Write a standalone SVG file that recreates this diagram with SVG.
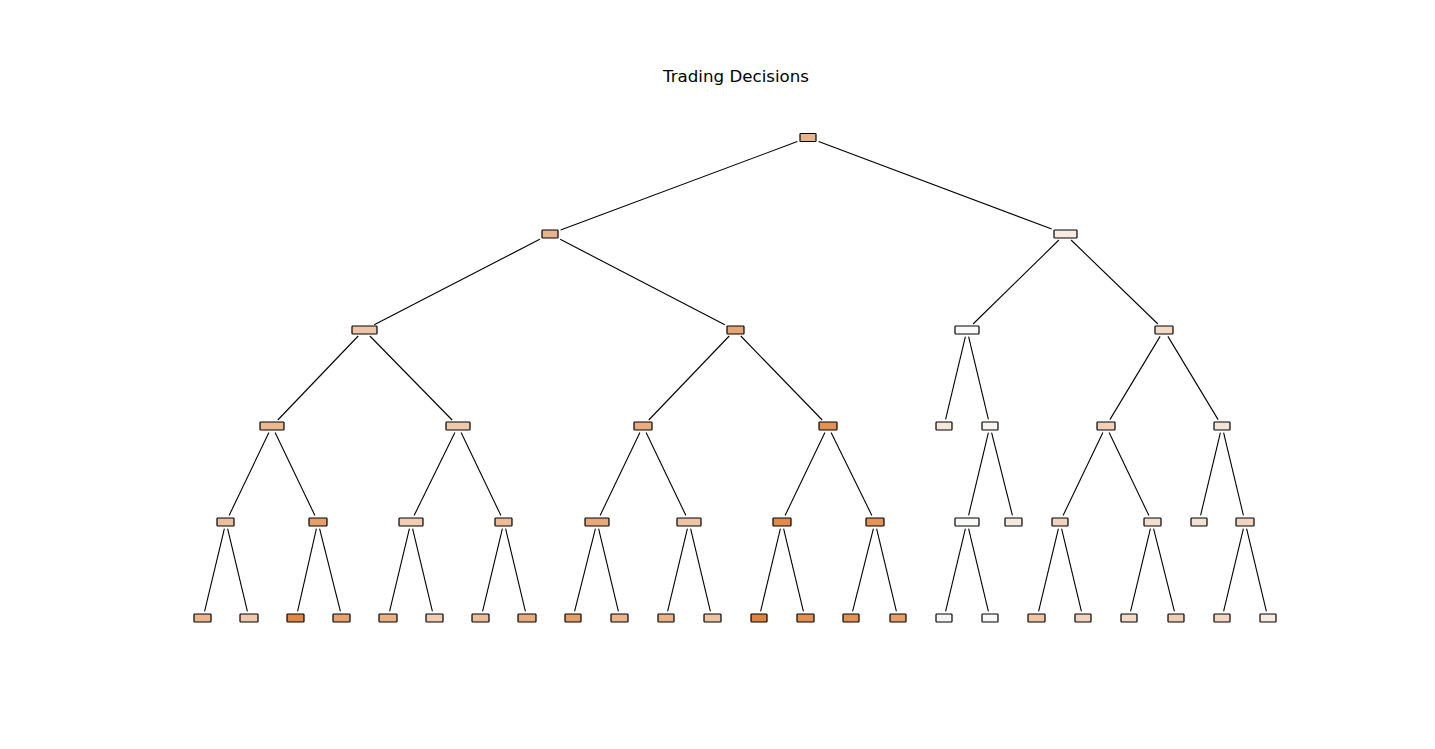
<svg xmlns="http://www.w3.org/2000/svg" width="1435" height="749" viewBox="0 0 1435 749">
<style>
.n rect{stroke:#000;stroke-width:1.2;rx:0.8}
.e line{stroke:#000;stroke-width:1.1;fill:none}
.t{font-family:"DejaVu Sans",sans-serif;font-size:16.67px;fill:#000}
</style>
<rect width="1435" height="749" fill="#fff"/>
<text class="t" x="736" y="82" text-anchor="middle">Trading Decisions</text>
<g id="connectors" class="e">
<line x1="797.4" y1="141.5" x2="560.6" y2="230"/>
<line x1="818.6" y1="141.5" x2="1051.7" y2="229"/>
<line x1="539.8" y1="239.3" x2="374.2" y2="324.7"/>
<line x1="560.2" y1="239.3" x2="724.8" y2="324.7"/>
<line x1="1058.9" y1="240" x2="973.1" y2="324"/>
<line x1="1071.1" y1="240" x2="1157.9" y2="324"/>
<line x1="358.2" y1="336" x2="277.8" y2="420"/>
<line x1="369.9" y1="336" x2="452.1" y2="420"/>
<line x1="729.2" y1="336" x2="648.8" y2="420"/>
<line x1="740.8" y1="336" x2="822.2" y2="420"/>
<line x1="965.4" y1="336.7" x2="945.6" y2="419.3"/>
<line x1="968.6" y1="336.7" x2="988.4" y2="419.3"/>
<line x1="1160.1" y1="336.4" x2="1109.9" y2="419.6"/>
<line x1="1167.9" y1="336.4" x2="1218.1" y2="419.6"/>
<line x1="268.9" y1="432.5" x2="229.1" y2="515.5"/>
<line x1="275.1" y1="432.5" x2="314.9" y2="515.5"/>
<line x1="454.9" y1="432.5" x2="414.1" y2="515.5"/>
<line x1="461.1" y1="432.5" x2="500.9" y2="515.5"/>
<line x1="639.9" y1="432.5" x2="600.1" y2="515.5"/>
<line x1="646.1" y1="432.5" x2="685.9" y2="515.5"/>
<line x1="824.9" y1="432.5" x2="785.1" y2="515.5"/>
<line x1="831.1" y1="432.5" x2="871.9" y2="515.5"/>
<line x1="988.4" y1="432.7" x2="968.6" y2="515.3"/>
<line x1="991.6" y1="432.7" x2="1012.4" y2="515.3"/>
<line x1="1102.9" y1="432.5" x2="1063.1" y2="515.5"/>
<line x1="1109.1" y1="432.5" x2="1148.9" y2="515.5"/>
<line x1="1220.4" y1="432.7" x2="1200.6" y2="515.3"/>
<line x1="1223.6" y1="432.7" x2="1243.4" y2="515.3"/>
<line x1="224.4" y1="528.7" x2="204.6" y2="611.3"/>
<line x1="227.6" y1="528.7" x2="247.4" y2="611.3"/>
<line x1="316.4" y1="528.7" x2="297.6" y2="611.3"/>
<line x1="319.6" y1="528.7" x2="340.4" y2="611.3"/>
<line x1="409.4" y1="528.7" x2="389.6" y2="611.3"/>
<line x1="412.6" y1="528.7" x2="432.4" y2="611.3"/>
<line x1="502.4" y1="528.7" x2="482.6" y2="611.3"/>
<line x1="505.6" y1="528.7" x2="525.4" y2="611.3"/>
<line x1="595.4" y1="528.7" x2="574.6" y2="611.3"/>
<line x1="598.6" y1="528.7" x2="618.4" y2="611.3"/>
<line x1="687.4" y1="528.7" x2="667.6" y2="611.3"/>
<line x1="690.6" y1="528.7" x2="710.4" y2="611.3"/>
<line x1="780.4" y1="528.7" x2="760.6" y2="611.3"/>
<line x1="783.6" y1="528.7" x2="803.4" y2="611.3"/>
<line x1="873.4" y1="528.7" x2="852.6" y2="611.3"/>
<line x1="876.6" y1="528.7" x2="896.4" y2="611.3"/>
<line x1="965.4" y1="528.7" x2="945.6" y2="611.3"/>
<line x1="968.6" y1="528.7" x2="988.4" y2="611.3"/>
<line x1="1058.4" y1="528.7" x2="1038.6" y2="611.3"/>
<line x1="1061.6" y1="528.7" x2="1081.4" y2="611.3"/>
<line x1="1150.4" y1="528.7" x2="1130.6" y2="611.3"/>
<line x1="1153.6" y1="528.7" x2="1174.4" y2="611.3"/>
<line x1="1243.4" y1="528.7" x2="1223.6" y2="611.3"/>
<line x1="1246.6" y1="528.7" x2="1266.4" y2="611.3"/>
</g>
<g id="n0" class="n"><rect x="800" y="133.5" width="16" height="8" fill="#e9b48c"/></g>
<g id="n1" class="n"><rect x="542" y="230" width="16" height="8" fill="#eab38c"/></g>
<g id="n2" class="n"><rect x="1054" y="230" width="23" height="8" fill="#f6ebe2"/></g>
<g id="n3" class="n"><rect x="352" y="326" width="25" height="8" fill="#eec5a6"/></g>
<g id="n4" class="n"><rect x="727" y="326" width="17" height="8" fill="#e8a574"/></g>
<g id="n5" class="n"><rect x="955" y="326" width="24" height="8" fill="#fafafa"/></g>
<g id="n6" class="n"><rect x="1155" y="326" width="18" height="8" fill="#f4d9c6"/></g>
<g id="n7" class="n"><rect x="260" y="422" width="24" height="8" fill="#ecb991"/></g>
<g id="n8" class="n"><rect x="446" y="422" width="24" height="8" fill="#f0c8aa"/></g>
<g id="n9" class="n"><rect x="634" y="422" width="18" height="8" fill="#eaad80"/></g>
<g id="n10" class="n"><rect x="819" y="422" width="18" height="8" fill="#e59153"/></g>
<g id="n11" class="n"><rect x="936" y="422" width="16" height="8" fill="#f5e6da"/></g>
<g id="n12" class="n"><rect x="982" y="422" width="16" height="8" fill="#f8f3ef"/></g>
<g id="n13" class="n"><rect x="1097" y="422" width="18" height="8" fill="#f2d1b9"/></g>
<g id="n14" class="n"><rect x="1214" y="422" width="16" height="8" fill="#f5e3d5"/></g>
<g id="n15" class="n"><rect x="217" y="518" width="17" height="8" fill="#edbf9c"/></g>
<g id="n16" class="n"><rect x="309" y="518" width="18" height="8" fill="#e7a06c"/></g>
<g id="n17" class="n"><rect x="399" y="518" width="24" height="8" fill="#f1ceb4"/></g>
<g id="n18" class="n"><rect x="495" y="518" width="17" height="8" fill="#edbc97"/></g>
<g id="n19" class="n"><rect x="585" y="518" width="24" height="8" fill="#e9a879"/></g>
<g id="n20" class="n"><rect x="677" y="518" width="24" height="8" fill="#efc3a3"/></g>
<g id="n21" class="n"><rect x="773" y="518" width="18" height="8" fill="#e38b4a"/></g>
<g id="n22" class="n"><rect x="866" y="518" width="18" height="8" fill="#e59457"/></g>
<g id="n23" class="n"><rect x="955" y="518" width="24" height="8" fill="#fafaf9"/></g>
<g id="n24" class="n"><rect x="1005" y="518" width="17" height="8" fill="#f6e9df"/></g>
<g id="n25" class="n"><rect x="1052" y="518" width="16" height="8" fill="#f2d4be"/></g>
<g id="n26" class="n"><rect x="1144" y="518" width="17" height="8" fill="#f4decd"/></g>
<g id="n27" class="n"><rect x="1191" y="518" width="16" height="8" fill="#f5e2d4"/></g>
<g id="n28" class="n"><rect x="1236" y="518" width="18" height="8" fill="#f2d5c0"/></g>
<g id="n29" class="n"><rect x="194" y="614" width="17" height="8" fill="#ecb78f"/></g>
<g id="n30" class="n"><rect x="240" y="614" width="18" height="8" fill="#f0c8ab"/></g>
<g id="n31" class="n"><rect x="287" y="614" width="17" height="8" fill="#e28643"/></g>
<g id="n32" class="n"><rect x="333" y="614" width="17" height="8" fill="#e8a26f"/></g>
<g id="n33" class="n"><rect x="379" y="614" width="18" height="8" fill="#ebb084"/></g>
<g id="n34" class="n"><rect x="426" y="614" width="17" height="8" fill="#f1ceb3"/></g>
<g id="n35" class="n"><rect x="472" y="614" width="17" height="8" fill="#edbd99"/></g>
<g id="n36" class="n"><rect x="518" y="614" width="18" height="8" fill="#eaac7f"/></g>
<g id="n37" class="n"><rect x="565" y="614" width="16" height="8" fill="#e79d66"/></g>
<g id="n38" class="n"><rect x="611" y="614" width="17" height="8" fill="#ecb48b"/></g>
<g id="n39" class="n"><rect x="658" y="614" width="16" height="8" fill="#ebb287"/></g>
<g id="n40" class="n"><rect x="704" y="614" width="17" height="8" fill="#efc2a2"/></g>
<g id="n41" class="n"><rect x="751" y="614" width="16" height="8" fill="#e1843e"/></g>
<g id="n42" class="n"><rect x="797" y="614" width="17" height="8" fill="#e49052"/></g>
<g id="n43" class="n"><rect x="843" y="614" width="16" height="8" fill="#e59255"/></g>
<g id="n44" class="n"><rect x="890" y="614" width="16" height="8" fill="#e79e68"/></g>
<g id="n45" class="n"><rect x="936" y="614" width="16" height="8" fill="#f9f7f5"/></g>
<g id="n46" class="n"><rect x="982" y="614" width="16" height="8" fill="#f9f8f7"/></g>
<g id="n47" class="n"><rect x="1028" y="614" width="17" height="8" fill="#efc5a6"/></g>
<g id="n48" class="n"><rect x="1075" y="614" width="16" height="8" fill="#f2d4be"/></g>
<g id="n49" class="n"><rect x="1121" y="614" width="16" height="8" fill="#f3dac7"/></g>
<g id="n50" class="n"><rect x="1168" y="614" width="16" height="8" fill="#f1cdb3"/></g>
<g id="n51" class="n"><rect x="1214" y="614" width="16" height="8" fill="#f3d7c3"/></g>
<g id="n52" class="n"><rect x="1260" y="614" width="16" height="8" fill="#f7ebe2"/></g>
</svg>
